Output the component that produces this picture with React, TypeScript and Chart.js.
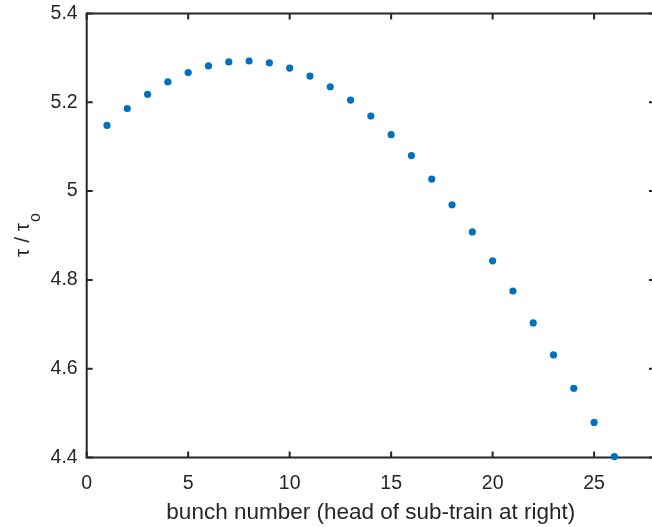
import React, { useEffect, useRef } from "react";
import { Chart, registerables } from "chart.js";

Chart.register(...registerables);

const bunchNumbers = [1, 2, 3, 4, 5, 6, 7, 8, 9, 10, 11, 12, 13, 14, 15, 16, 17, 18, 19, 20, 21, 22, 23, 24, 25, 26];
const tauRatio = [
  5.148, 5.186, 5.218, 5.246, 5.267, 5.282, 5.291, 5.293, 5.289, 5.277,
  5.259, 5.235, 5.205, 5.169, 5.127, 5.08, 5.027, 4.969, 4.908, 4.843,
  4.775, 4.703, 4.631, 4.556, 4.479, 4.402,
];
const xTickValues = [0, 5, 10, 15, 20, 25];
const yTickValues = [4.4, 4.6, 4.8, 5, 5.2, 5.4];
const xTitle = "bunch number (head of sub-train at right)";
const yTitleMain = "τ / τ";
const yTitleSub = "o";

const AXIS_COLOR = "#262626";
const FONT = "'Liberation Sans', Arial, Helvetica, sans-serif";

const boxPlugin = {
  id: "matlabBox",
  beforeDatasetsDraw(chart: any) {
    const { ctx, chartArea: a, scales } = chart;
    const x = scales.x;
    const y = scales.y;
    ctx.save();
    ctx.strokeStyle = AXIS_COLOR;
    ctx.lineWidth = 2;
    ctx.strokeRect(a.left, a.top, a.right - a.left, a.bottom - a.top);
    const tl = 6;
    ctx.beginPath();
    x.ticks.forEach((t: any) => {
      const px = x.getPixelForValue(t.value);
      ctx.moveTo(px, a.bottom);
      ctx.lineTo(px, a.bottom - tl);
      ctx.moveTo(px, a.top);
      ctx.lineTo(px, a.top + tl);
    });
    y.ticks.forEach((t: any) => {
      const py = y.getPixelForValue(t.value);
      ctx.moveTo(a.left, py);
      ctx.lineTo(a.left + tl, py);
      ctx.moveTo(a.right, py);
      ctx.lineTo(a.right - tl, py);
    });
    ctx.stroke();
    ctx.restore();
  },
  afterDraw(chart: any) {
    const { ctx, chartArea: a } = chart;
    ctx.save();
    ctx.fillStyle = AXIS_COLOR;
    // x title
    ctx.font = `22.5px ${FONT}`;
    ctx.textAlign = "center";
    ctx.textBaseline = "alphabetic";
    ctx.fillText(xTitle, (a.left + a.right) / 2, 519);
    // y title (rotated)
    const cy = (a.top + a.bottom) / 2;
    ctx.translate(29, cy);
    ctx.rotate(-Math.PI / 2);
    ctx.font = `21px ${FONT}`;
    const w1 = ctx.measureText(yTitleMain).width;
    ctx.font = `16px ${FONT}`;
    const w2 = ctx.measureText(yTitleSub).width;
    const start = -(w1 + w2) / 2;
    ctx.textAlign = "left";
    ctx.font = `21px ${FONT}`;
    ctx.fillText(yTitleMain, start, 0);
    ctx.font = `16px ${FONT}`;
    ctx.fillText(yTitleSub, start + w1 + 1, 11);
    ctx.restore();
  },
};

const fmt = (v: any) => String(Math.round(Number(v) * 10) / 10);

export default function App() {
  const canvasRef = useRef<HTMLCanvasElement | null>(null);

  useEffect(() => {
    if (!canvasRef.current) return;
    const chart = new Chart(canvasRef.current, {
      type: "scatter",
      data: {
        datasets: [
          {
            data: bunchNumbers.map((b, i) => ({ x: b, y: tauRatio[i] })),
            backgroundColor: "#0072BD",
            borderWidth: 0,
            pointRadius: 3.6,
            showLine: false,
          },
        ],
      },
      options: {
        animation: false,
        responsive: false,
        devicePixelRatio: 1,
        clip: false,
        layout: { padding: { top: 13.5, right: 15, left: 0, bottom: 0 } },
        plugins: { legend: { display: false }, tooltip: { enabled: false } },
        scales: {
          x: {
            type: "linear",
            min: 0,
            max: 28,
            afterFit: (s: any) => {
              s.height = 69.5;
              s.paddingLeft = 0;
              s.paddingRight = 0;
            },
            afterBuildTicks: (s: any) => {
              s.ticks = xTickValues.map((v) => ({ value: v }));
            },
            grid: { display: false, drawTicks: false },
            border: { display: false },
            ticks: {
              color: AXIS_COLOR,
              font: { family: FONT, size: 19.5 },
              padding: 14,
              maxRotation: 0,
              callback: fmt,
            },
          },
          y: {
            type: "linear",
            min: 4.4,
            max: 5.4,
            afterFit: (s: any) => {
              s.width = 86.7;
              s.paddingTop = 0;
              s.paddingBottom = 0;
            },
            afterBuildTicks: (s: any) => {
              s.ticks = yTickValues.map((v) => ({ value: v }));
            },
            grid: { display: false, drawTicks: false },
            border: { display: false },
            ticks: {
              color: AXIS_COLOR,
              font: { family: FONT, size: 19.5 },
              padding: 9,
              callback: fmt,
            },
          },
        },
      },
      plugins: [boxPlugin],
    });
    return () => chart.destroy();
  }, []);

  return (
    <div
      style={{
        position: "absolute",
        left: 0,
        top: 0,
        width: 652,
        height: 527,
        overflow: "hidden",
        background: "#ffffff",
      }}
    >
      <canvas ref={canvasRef} width={670} height={527} style={{ width: 670, height: 527, display: "block" }} />
    </div>
  );
}
